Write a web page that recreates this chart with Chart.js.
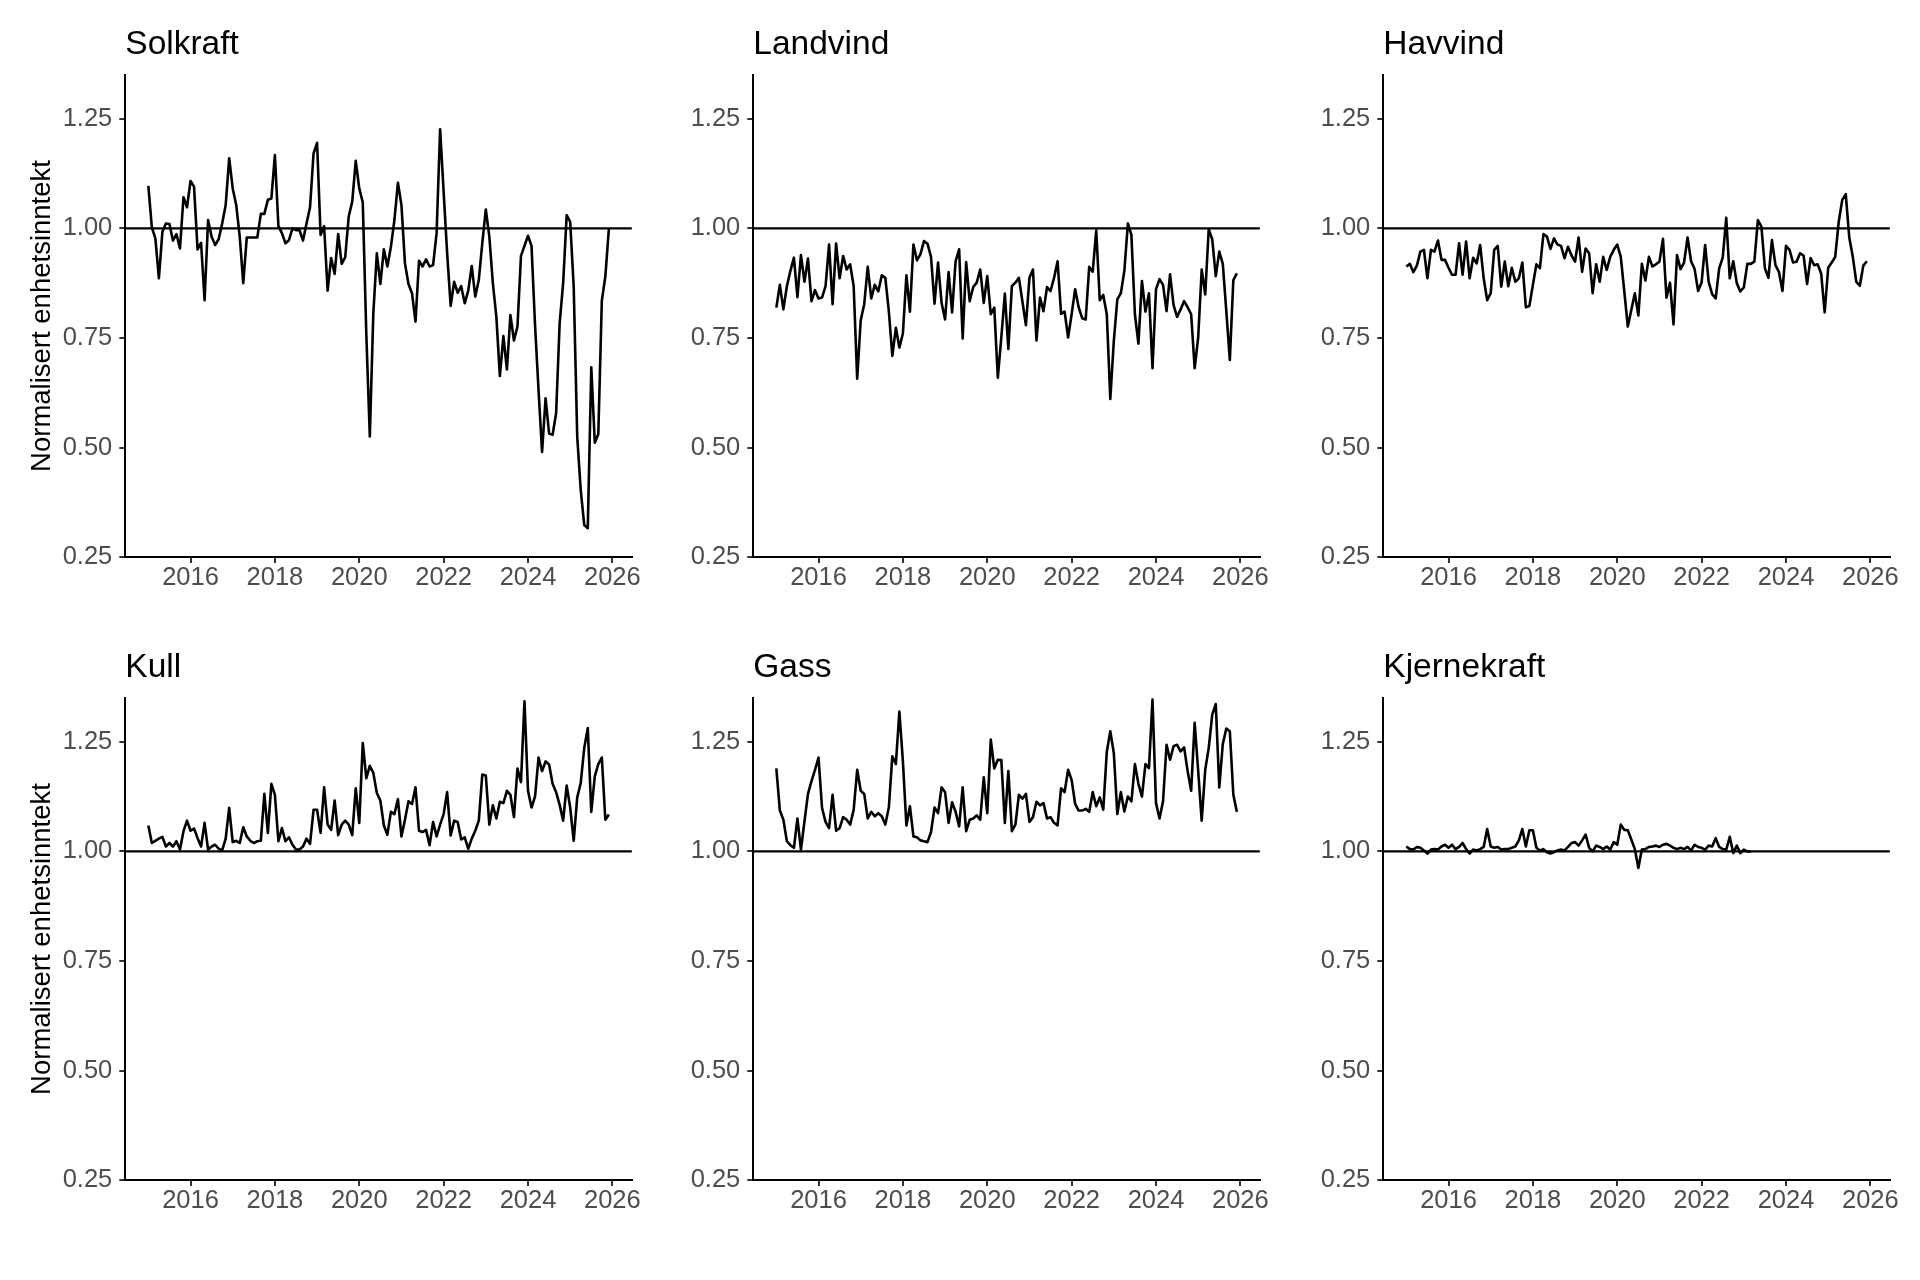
<!DOCTYPE html>
<html>
<head>
<meta charset="utf-8">
<title>Normalisert enhetsinntekt</title>
<script src="https://cdn.jsdelivr.net/npm/chart.js@4.4.1/dist/chart.umd.min.js"></script>
<style>
  html, body { margin: 0; padding: 0; background: #ffffff; }
  #page { position: relative; width: 1920px; height: 1280px; overflow: hidden; background: #ffffff; }
  #page canvas { position: absolute; }
</style>
</head>
<body>
<div id="page"></div>
<script>
// monthly series, first point is January 2015
const START_YEAR = 2015;
const YEAR_TICKS = [2016, 2018, 2020, 2022, 2024, 2026];
const VALUE_TICKS = [0.25, 0.50, 0.75, 1.00, 1.25];
const REFERENCE_LEVEL = 1.0;
const Y_AXIS_TITLE = 'Normalisert enhetsinntekt';
const PANEL_TITLES = ['Solkraft', 'Landvind', 'Havvind', 'Kull', 'Gass', 'Kjernekraft'];

const solkraft = [
  1.097, 1.002, 0.977, 0.886, 0.992, 1.011, 1.010, 0.972, 0.987, 0.954,
  1.071, 1.048, 1.108, 1.095, 0.952, 0.967, 0.836, 1.019, 0.981, 0.962,
  0.975, 1.011, 1.053, 1.160, 1.091, 1.053, 0.981, 0.875, 0.979, 0.979,
  0.979, 0.979, 1.033, 1.033, 1.065, 1.068, 1.167, 1.005, 0.989, 0.966,
  0.973, 1.000, 0.996, 0.996, 0.972, 1.011, 1.048, 1.171, 1.195, 0.985,
  1.005, 0.858, 0.932, 0.896, 0.987, 0.919, 0.934, 1.027, 1.061, 1.154,
  1.091, 1.059, 0.760, 0.525, 0.806, 0.943, 0.873, 0.952, 0.913, 0.958,
  1.019, 1.104, 1.053, 0.920, 0.873, 0.852, 0.787, 0.926, 0.913, 0.929,
  0.913, 0.916, 0.989, 1.226, 1.083, 0.943, 0.823, 0.878, 0.853, 0.868,
  0.829, 0.858, 0.914, 0.844, 0.882, 0.966, 1.043, 0.981, 0.875, 0.798,
  0.663, 0.754, 0.678, 0.802, 0.744, 0.776, 0.937, 0.960, 0.983, 0.960,
  0.780, 0.630, 0.490, 0.612, 0.532, 0.529, 0.578, 0.783, 0.875, 1.030,
  1.015, 0.867, 0.525, 0.403, 0.323, 0.316, 0.683, 0.511, 0.531, 0.835,
  0.890, 0.998
];

const landvind = [
  0.819, 0.871, 0.815, 0.868, 0.903, 0.933, 0.843, 0.939, 0.878, 0.931,
  0.834, 0.859, 0.840, 0.842, 0.868, 0.963, 0.827, 0.965, 0.886, 0.937,
  0.906, 0.918, 0.868, 0.657, 0.790, 0.827, 0.912, 0.840, 0.871, 0.856,
  0.893, 0.887, 0.811, 0.709, 0.773, 0.728, 0.760, 0.893, 0.810, 0.963,
  0.927, 0.941, 0.971, 0.965, 0.935, 0.828, 0.922, 0.830, 0.792, 0.900,
  0.808, 0.925, 0.952, 0.749, 0.923, 0.834, 0.866, 0.876, 0.906, 0.830,
  0.891, 0.804, 0.819, 0.659, 0.751, 0.851, 0.725, 0.868, 0.876, 0.887,
  0.833, 0.779, 0.887, 0.906, 0.744, 0.842, 0.811, 0.866, 0.857, 0.887,
  0.925, 0.805, 0.810, 0.751, 0.804, 0.861, 0.820, 0.795, 0.792, 0.912,
  0.901, 0.995, 0.836, 0.848, 0.804, 0.611, 0.743, 0.838, 0.852, 0.903,
  1.011, 0.985, 0.804, 0.737, 0.880, 0.810, 0.852, 0.681, 0.861, 0.884,
  0.871, 0.811, 0.895, 0.825, 0.798, 0.815, 0.834, 0.820, 0.804, 0.681,
  0.751, 0.906, 0.849, 0.998, 0.975, 0.891, 0.947, 0.919, 0.811, 0.700,
  0.882, 0.897
];

const havvind = [
  0.913, 0.919, 0.900, 0.915, 0.947, 0.951, 0.886, 0.951, 0.947, 0.972,
  0.928, 0.928, 0.910, 0.894, 0.894, 0.966, 0.894, 0.970, 0.886, 0.933,
  0.920, 0.962, 0.886, 0.836, 0.852, 0.951, 0.960, 0.867, 0.924, 0.868,
  0.910, 0.878, 0.886, 0.922, 0.820, 0.823, 0.871, 0.918, 0.909, 0.987,
  0.981, 0.953, 0.977, 0.963, 0.960, 0.932, 0.958, 0.938, 0.924, 0.979,
  0.901, 0.954, 0.943, 0.852, 0.918, 0.878, 0.935, 0.905, 0.935, 0.951,
  0.963, 0.935, 0.856, 0.776, 0.814, 0.852, 0.801, 0.919, 0.881, 0.935,
  0.913, 0.918, 0.924, 0.976, 0.842, 0.876, 0.781, 0.939, 0.907, 0.922,
  0.979, 0.925, 0.907, 0.857, 0.877, 0.962, 0.878, 0.850, 0.840, 0.909,
  0.933, 1.024, 0.886, 0.925, 0.875, 0.856, 0.865, 0.919, 0.919, 0.924,
  1.019, 1.004, 0.909, 0.887, 0.973, 0.916, 0.900, 0.857, 0.960, 0.951,
  0.922, 0.924, 0.943, 0.938, 0.873, 0.932, 0.916, 0.918, 0.897, 0.808,
  0.910, 0.922, 0.935, 1.015, 1.065, 1.078, 0.979, 0.935, 0.878, 0.869,
  0.915, 0.925
];

const kull = [
  1.059, 1.019, 1.024, 1.029, 1.033, 1.011, 1.019, 1.011, 1.023, 1.004,
  1.046, 1.070, 1.047, 1.052, 1.030, 1.011, 1.065, 1.004, 1.011, 1.015,
  1.006, 1.002, 1.029, 1.099, 1.021, 1.024, 1.019, 1.055, 1.034, 1.024,
  1.019, 1.023, 1.024, 1.131, 1.042, 1.154, 1.129, 1.023, 1.053, 1.023,
  1.032, 1.015, 1.004, 1.004, 1.011, 1.029, 1.017, 1.095, 1.095, 1.042,
  1.146, 1.061, 1.049, 1.116, 1.037, 1.061, 1.070, 1.061, 1.037, 1.144,
  1.065, 1.247, 1.167, 1.195, 1.179, 1.133, 1.116, 1.059, 1.038, 1.090,
  1.085, 1.119, 1.034, 1.072, 1.114, 1.108, 1.146, 1.047, 1.044, 1.049,
  1.014, 1.067, 1.034, 1.061, 1.085, 1.135, 1.036, 1.070, 1.067, 1.027,
  1.032, 1.006, 1.029, 1.047, 1.070, 1.175, 1.173, 1.061, 1.105, 1.075,
  1.113, 1.110, 1.138, 1.129, 1.078, 1.189, 1.158, 1.342, 1.138, 1.100,
  1.125, 1.214, 1.183, 1.205, 1.198, 1.154, 1.135, 1.106, 1.070, 1.150,
  1.100, 1.024, 1.123, 1.156, 1.236, 1.281, 1.090, 1.171, 1.199, 1.214,
  1.072, 1.084
];

const gass = [
  1.189, 1.093, 1.072, 1.023, 1.014, 1.008, 1.075, 1.004, 1.068, 1.131,
  1.160, 1.186, 1.214, 1.099, 1.067, 1.053, 1.129, 1.047, 1.053, 1.078,
  1.072, 1.061, 1.095, 1.186, 1.138, 1.131, 1.075, 1.090, 1.080, 1.087,
  1.080, 1.061, 1.100, 1.217, 1.199, 1.319, 1.205, 1.059, 1.103, 1.034,
  1.032, 1.025, 1.023, 1.021, 1.044, 1.100, 1.087, 1.146, 1.135, 1.065,
  1.112, 1.090, 1.057, 1.146, 1.046, 1.072, 1.075, 1.082, 1.072, 1.169,
  1.087, 1.255, 1.189, 1.209, 1.208, 1.065, 1.183, 1.046, 1.061, 1.129,
  1.120, 1.131, 1.067, 1.078, 1.113, 1.105, 1.110, 1.075, 1.078, 1.065,
  1.059, 1.144, 1.135, 1.186, 1.163, 1.108, 1.093, 1.093, 1.097, 1.090,
  1.135, 1.103, 1.123, 1.095, 1.227, 1.274, 1.224, 1.085, 1.135, 1.091,
  1.125, 1.114, 1.199, 1.154, 1.125, 1.199, 1.190, 1.346, 1.110, 1.075,
  1.114, 1.243, 1.209, 1.240, 1.243, 1.228, 1.237, 1.183, 1.138, 1.293,
  1.183, 1.070, 1.186, 1.236, 1.312, 1.336, 1.146, 1.245, 1.280, 1.274,
  1.129, 1.090
];

// ends March 2023
const kjernekraft = [
  1.011, 1.005, 1.004, 1.010, 1.008, 1.002, 0.995, 1.004, 1.005, 1.004,
  1.011, 1.015, 1.008, 1.015, 1.005, 1.010, 1.019, 1.005, 0.995, 1.004,
  1.002, 1.005, 1.010, 1.051, 1.011, 1.008, 1.010, 1.004, 1.005, 1.005,
  1.008, 1.011, 1.025, 1.051, 1.011, 1.048, 1.048, 1.008, 1.002, 1.005,
  0.998, 0.995, 0.998, 1.002, 1.004, 1.002, 1.010, 1.019, 1.021, 1.013,
  1.025, 1.038, 1.008, 1.000, 1.013, 1.010, 1.005, 1.011, 1.004, 1.021,
  1.015, 1.061, 1.049, 1.048, 1.027, 1.005, 0.962, 1.004, 1.005, 1.010,
  1.011, 1.013, 1.010, 1.015, 1.017, 1.013, 1.008, 1.005, 1.008, 1.005,
  1.010, 1.002, 1.015, 1.010, 1.008, 1.004, 1.013, 1.011, 1.030, 1.010,
  1.005, 1.004, 1.033, 0.996, 1.013, 0.996, 1.004, 1.000, 1.000
];

const SERIES = [solkraft, landvind, havvind, kull, gass, kjernekraft];

// shared axis limits (ggplot-style 5% expansion on the date axis)
const X_MIN = 2014.454;
const X_MAX = 2026.463;
const Y_MIN = 0.25;
const Y_MAX = 1.35;

// page geometry
const COL_LEFT = [0, 628.4, 1258.4];
const ROW_TOP = [0, 623.4];
const CANVAS_W = 652;
const CANVAS_H = 620;

Chart.defaults.font.family = '"Liberation Sans", Arial, Helvetica, sans-serif';
Chart.defaults.color = '#4d4d4d';

class FacetPanel {
    constructor(container, index) {
        this.index = index;
        this.col = index % 3;
        this.row = Math.floor(index / 3);
        this.title = PANEL_TITLES[index];
        this.values = SERIES[index];
        this.render(container);
        this.initChart();
    }

    render(container) {
        this.canvas = document.createElement('canvas');
        this.canvas.width = CANVAS_W;
        this.canvas.height = CANVAS_H;
        this.canvas.style.left = COL_LEFT[this.col] + 'px';
        this.canvas.style.top = ROW_TOP[this.row] + 'px';
        this.canvas.style.width = CANVAS_W + 'px';
        this.canvas.style.height = CANVAS_H + 'px';
        container.appendChild(this.canvas);
    }

    preparePoints() {
        return this.values.map((v, i) => ({ x: START_YEAR + i / 12, y: v }));
    }

    initChart() {
        this.chart = new Chart(this.canvas.getContext('2d'), {
            type: 'line',
            data: {
                datasets: [
                    {
                        data: this.preparePoints(),
                        borderColor: '#000000',
                        borderWidth: 2.6,
                        borderJoinStyle: 'round',
                        pointRadius: 0,
                        tension: 0,
                        clip: false,
                        order: 1
                    },
                    {
                        data: [{ x: X_MIN, y: REFERENCE_LEVEL }, { x: X_MAX, y: REFERENCE_LEVEL }],
                        borderColor: '#000000',
                        borderWidth: 2.2,
                        pointRadius: 0,
                        order: 2
                    }
                ]
            },
            options: this.getChartOptions()
        });
    }

    getChartOptions() {
        const showYTitle = this.col === 0;
        return {
            responsive: false,
            animation: false,
            events: [],
            layout: { padding: { top: 0, right: 20.1, bottom: 0, left: 0 } },
            plugins: {
                legend: { display: false },
                tooltip: { enabled: false },
                title: {
                    display: true,
                    text: this.title,
                    align: 'start',
                    fullSize: false,
                    color: '#000000',
                    font: { size: 33.5, weight: 'normal', lineHeight: 1.2 },
                    padding: { top: 24.9, bottom: 9.8 }
                }
            },
            scales: {
                x: {
                    type: 'linear',
                    min: X_MIN,
                    max: X_MAX,
                    afterBuildTicks: (axis) => { axis.ticks = YEAR_TICKS.map(v => ({ value: v })); },
                    afterFit: (axis) => { axis.height = 62.9; },
                    ticks: {
                        color: '#4d4d4d',
                        font: { size: 25.5 },
                        padding: 0,
                        autoSkip: false,
                        maxRotation: 0,
                        callback: (v) => String(v)
                    },
                    grid: { drawOnChartArea: false, drawTicks: true, tickLength: 6, color: '#333333', lineWidth: 2 },
                    border: { display: true, color: '#000000', width: 2 }
                },
                y: {
                    type: 'linear',
                    min: Y_MIN,
                    max: Y_MAX,
                    afterBuildTicks: (axis) => { axis.ticks = VALUE_TICKS.map(v => ({ value: v })); },
                    afterFit: (axis) => { axis.width = 125.3; },
                    ticks: {
                        color: '#4d4d4d',
                        font: { size: 25.5 },
                        padding: 7,
                        autoSkip: false,
                        callback: (v) => v.toFixed(2)
                    },
                    grid: { drawOnChartArea: false, drawTicks: true, tickLength: 6, color: '#333333', lineWidth: 2 },
                    border: { display: true, color: '#000000', width: 2 },
                    title: {
                        display: showYTitle,
                        text: Y_AXIS_TITLE,
                        color: '#000000',
                        font: { size: 27.5, weight: 'normal', lineHeight: 1.2 },
                        padding: { top: 25.5, bottom: 0 }
                    }
                }
            }
        };
    }
}

const page = document.getElementById('page');
const panels = PANEL_TITLES.map((_, i) => new FacetPanel(page, i));
</script>
</body>
</html>
